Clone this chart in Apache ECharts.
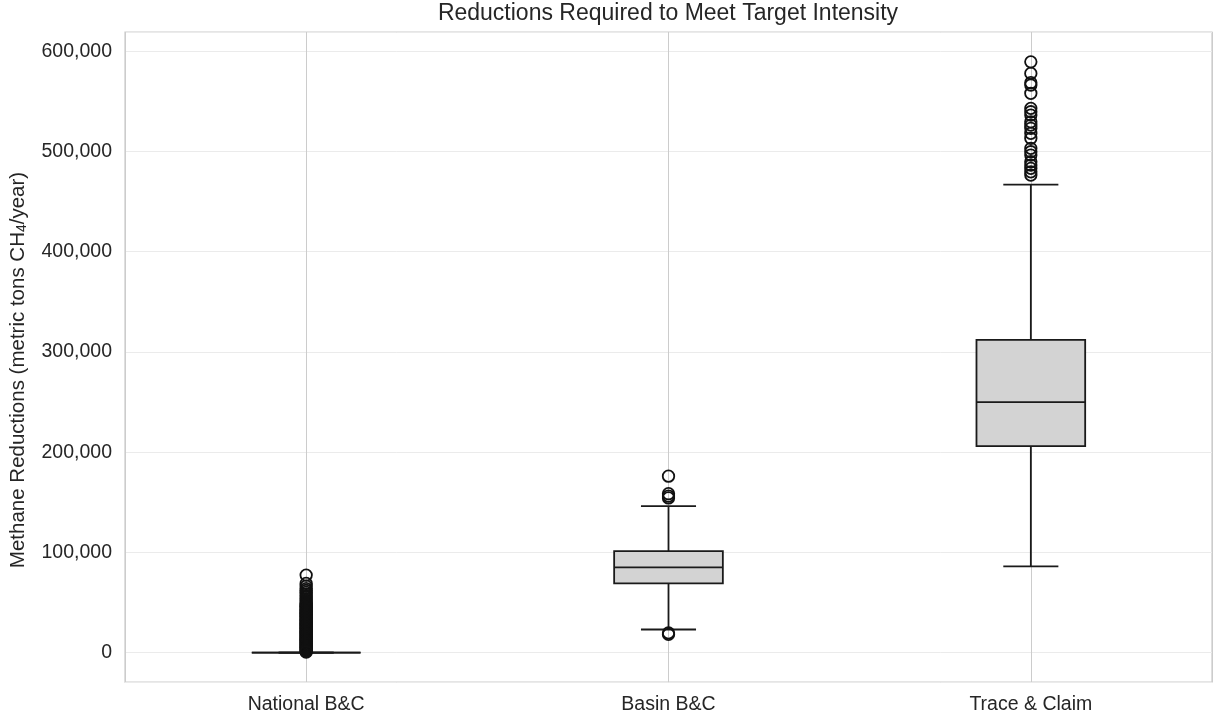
<!DOCTYPE html>
<html lang="en">
<head>
    <meta charset="UTF-8">
    <title>Reductions Required to Meet Target Intensity</title>
    <style>
        html, body {margin: 0; padding: 0; background: #ffffff;}
        #main {width: 1213px; height: 719px;}
    </style>
</head>
<script type="text/javascript" src="https://cdn.jsdelivr.net/npm/echarts@6/dist/echarts.min.js"></script>
<body>
<div id="main"></div>
<script type="text/javascript">
    // categories and box statistics
    var categories = ['National B&C', 'Basin B&C', 'Trace & Claim'];
    var whiskerLow = [0, 23000, 86000];
    var quartile1 = [0, 69000, 206000];
    var medians = [0, 85000, 250000];
    var quartile3 = [0, 101300, 312000];
    var whiskerHigh = [0, 146200, 467000];

    // outliers (fliers) per category
    var nationalOutliers = [77300, 69000, 66200, 63800, 61900, 60100, 58300, 56700, 55100, 53600,
        52100, 50700, 49500, 48600, 47700, 46800, 45900, 45100, 44300, 43500, 42600, 41800, 41000,
        40200, 39500, 38700, 37900, 37200, 36400, 35700, 34900, 34100, 33400, 32600, 31900, 31100,
        30400, 29600, 28900, 28100, 27400, 26700, 25900, 25200, 24500, 23800, 23000, 22300, 21600,
        20900, 20100, 19400, 18700, 18000, 17300, 16600, 15900, 15200, 14500, 13800, 13100, 12400,
        11700, 11000, 10300, 9600, 8900, 8200, 7500, 6800, 6100, 5400, 4700, 4000, 3300, 2600,
        1900, 1200, 500];
    var basinOutliers = [176000, 158500, 156200, 154300, 19600, 18100];
    var traceOutliers = [589500, 578000, 568700, 566400, 558100, 543100, 539700, 536400, 529700,
        526400, 523200, 518200, 513200, 503200, 499800, 496500, 489800, 486500, 483200, 479800, 476500];

    var yMin = -29400;
    var yMax = 619300;

    var textColor = '#262626';
    var boxFill = '#d3d3d3';
    var boxEdge = '#1a1a1a';
    var fontName = 'Liberation Sans, Arial, sans-serif';

    var boxData = [];
    for (var i = 0; i < categories.length; i++) {
        boxData.push([i, whiskerLow[i], quartile1[i], medians[i], quartile3[i], whiskerHigh[i]]);
    }

    var outlierData = [];
    [nationalOutliers, basinOutliers, traceOutliers].forEach(function (list, idx) {
        list.forEach(function (v) {
            outlierData.push([idx, v]);
        });
    });

    function edge() {
        return {stroke: boxEdge, lineWidth: 1.8, fill: null};
    }

    function renderBox(params, api) {
        var idx = api.value(0);
        var band = api.size([1, 0])[0];
        var half = band * 0.15;
        var cap = band * 0.076;
        var low = api.coord([idx, api.value(1)]);
        var q1 = api.coord([idx, api.value(2)]);
        var med = api.coord([idx, api.value(3)]);
        var q3 = api.coord([idx, api.value(4)]);
        var high = api.coord([idx, api.value(5)]);
        var x = med[0];
        return {
            type: 'group',
            children: [
                {type: 'line', shape: {x1: x, y1: q3[1], x2: x, y2: high[1]}, style: edge()},
                {type: 'line', shape: {x1: x, y1: q1[1], x2: x, y2: low[1]}, style: edge()},
                {type: 'line', shape: {x1: x - cap, y1: high[1], x2: x + cap, y2: high[1]}, style: edge()},
                {type: 'line', shape: {x1: x - cap, y1: low[1], x2: x + cap, y2: low[1]}, style: edge()},
                {
                    type: 'rect',
                    shape: {x: x - half, y: q3[1], width: half * 2, height: q1[1] - q3[1]},
                    style: {fill: boxFill, stroke: boxEdge, lineWidth: 1.8}
                },
                {type: 'line', shape: {x1: x - half, y1: med[1], x2: x + half, y2: med[1]}, style: edge()}
            ]
        };
    }

    var myChart = echarts.init(document.getElementById('main'), null, {renderer: 'canvas'});
    myChart.setOption({
        backgroundColor: '#ffffff',
        animation: false,
        textStyle: {fontFamily: fontName},
        title: {
            text: 'Reductions Required to Meet Target Intensity',
            left: 668,
            top: 2,
            padding: 0,
            textAlign: 'center',
            textStyle: {fontSize: 23, fontWeight: 'normal', color: textColor, fontFamily: fontName}
        },
        grid: {
            left: 124, right: 1, top: 32, bottom: 37,
            show: true, borderColor: '#cccccc', borderWidth: 1.25, backgroundColor: '#ffffff'
        },
        xAxis: [{
            type: 'category',
            data: categories,
            boundaryGap: true,
            axisLine: {show: false},
            axisTick: {show: false},
            splitLine: {show: false},
            axisLabel: {color: textColor, fontSize: 19.5, margin: 13, fontFamily: fontName}
        }, {
            // hidden value axis only used for the vertical grid lines at the category centres
            type: 'value',
            min: -0.5,
            max: 2.5,
            splitNumber: 3,
            axisLine: {show: false},
            axisTick: {show: false},
            axisLabel: {show: false},
            splitLine: {show: true, lineStyle: {color: '#cccccc', width: 1}}
        }],
        yAxis: {
            type: 'value',
            min: yMin,
            max: yMax,
            splitNumber: 5,
            axisLine: {show: false},
            axisTick: {show: false},
            axisLabel: {
                color: textColor, fontSize: 19.5, margin: 13, fontFamily: fontName,
                showMinLabel: false, showMaxLabel: false,
                formatter: function (v) {
                    if (v % 100000 !== 0) return '';
                    return v.toLocaleString('en-US');
                }
            },
            splitLine: {show: true, lineStyle: {color: '#ebebeb', width: 1}},
            name: 'Methane Reductions (metric tons CH{sub|4}/year)',
            nameLocation: 'middle',
            nameRotate: 90,
            nameGap: 96,
            nameTextStyle: {
                color: textColor, fontSize: 20.5, fontFamily: fontName,
                padding: [0, 26, 0, 0],
                rich: {
                    sub: {fontSize: 14, color: textColor, fontFamily: fontName, verticalAlign: 'bottom', padding: [6, 0, 0, 0]}
                }
            }
        },
        series: [{
            type: 'custom',
            name: 'boxes',
            xAxisIndex: 0,
            renderItem: renderBox,
            encode: {x: 0, y: [1, 2, 3, 4, 5]},
            data: boxData,
            z: 3
        }, {
            type: 'scatter',
            name: 'outliers',
            xAxisIndex: 0,
            symbol: 'circle',
            symbolSize: 11.5,
            itemStyle: {color: 'rgba(0,0,0,0)', borderColor: '#111111', borderWidth: 1.8, opacity: 1},
            data: outlierData,
            z: 4
        }]
    });
</script>
</body>
</html>
